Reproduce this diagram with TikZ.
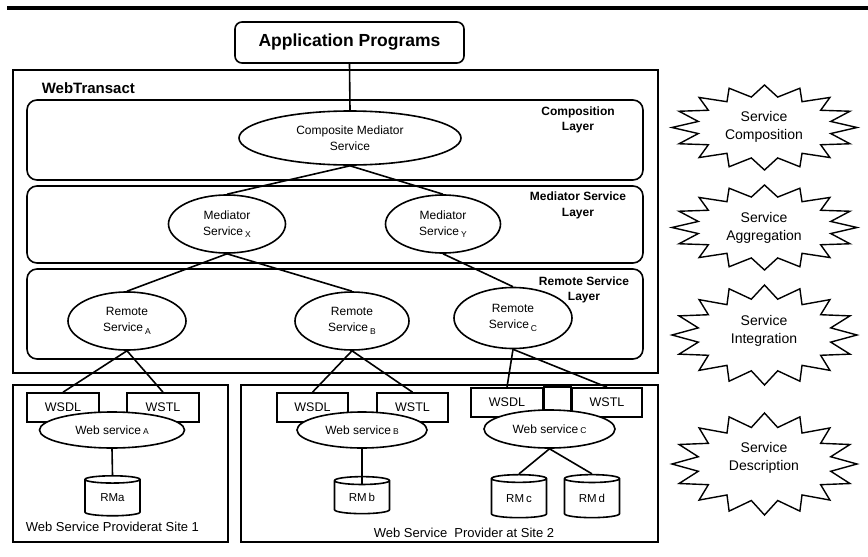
\documentclass[tikz,border=0pt]{standalone}
\usepackage{fontspec}
\setmainfont{Liberation Sans}
\usetikzlibrary{shapes.geometric,calc}

% lowered small index after a service name
\newcommand\lowsub[1]{\,\raisebox{-2.5pt}{\fontsize{8.5}{9}\selectfont #1}}
% small index on the baseline
\newcommand\smallsub[1]{{\fontsize{8.5}{9}\selectfont #1}}
% sixteen-point burst: centre x, centre y, x radius, y radius
\newcommand\burst[4]{%
  \draw[burstline] plot[samples at={0,...,31}, variable=\k]
    ({#1+(1-0.27*mod(\k,2))*#3*cos(\k*11.25)},
     {#2-(1-0.27*mod(\k,2))*#4*sin(\k*11.25)}) -- cycle;}

\begin{document}
\begin{tikzpicture}[x=1pt, y=-1pt, line width=1.6pt,
  box/.style={draw, rectangle, inner sep=0pt, fill=white},
  appbox/.style={draw, rectangle, rounded corners=7pt, inner sep=0pt,
    minimum width=229pt, minimum height=41pt,
    font=\fontsize{17.5}{20}\selectfont\bfseries},
  layer/.style={draw, rectangle, rounded corners=10pt, inner sep=0pt,
    minimum width=616pt},
  layerlabel/.style={align=center, inner sep=0pt,
    font=\fontsize{12}{15.5}\selectfont\bfseries},
  oval/.style={draw, ellipse, fill=white, inner sep=0pt, align=center,
    font=\fontsize{12}{16}\selectfont},
  doc/.style={box, minimum height=29pt, font=\fontsize{12.5}{14}\selectfont},
  cyl/.style={draw, cylinder, shape border rotate=90, aspect=0.3,
    inner sep=0pt, minimum width=55pt, minimum height=40pt,
    font=\fontsize{11.5}{13}\selectfont},
  sitelabel/.style={inner sep=0pt, font=\fontsize{13}{15}\selectfont},
  burstline/.style={draw, fill=white, line width=1.4pt, line join=miter},
  bursttext/.style={align=center, inner sep=0pt,
    font=\fontsize{14}{18.5}\selectfont}]

\useasboundingbox (0,0) rectangle (868,557);

% heading rule
\fill (7,6) rectangle (868,9.5);

% application layer
\node[appbox] (app) at (349.5,42.5) {Application Programs};

% WebTransact and its three layers
\node[draw, rectangle, inner sep=0pt, minimum width=645pt, minimum height=303pt] (wt) at (335.5,221.5) {};
\node[anchor=west, inner sep=0pt, font=\fontsize{15}{17}\selectfont\bfseries] (wtlabel) at (41,88) {WebTransact};
\node[layer, minimum height=80pt] (compL) at (335,140) {};
\node[layer, minimum height=77pt] (medL) at (335,224.5) {};
\node[layer, minimum height=90pt] (remL) at (335,314) {};
\node[layerlabel] (compLbl) at (578,120) {Composition\\Layer};
\node[layerlabel] (medLbl) at (578,205.5) {Mediator Service\\Layer};
\node[layerlabel] (remLbl) at (584,290) {Remote Service\\Layer};

\node[oval, minimum width=222pt, minimum height=54pt] (cms) at (350,138) {Composite Mediator\\Service};
\node[oval, minimum width=117pt, minimum height=58pt] (medx) at (227,224) {Mediator\\Service\lowsub{X}};
\node[oval, minimum width=115pt, minimum height=58pt] (medy) at (443,224) {Mediator\\Service\lowsub{Y}};
\node[oval, minimum width=118pt, minimum height=58pt] (rema) at (127,321) {Remote\\Service\lowsub{A}};
\node[oval, minimum width=114pt, minimum height=58pt] (remb) at (352,321) {Remote\\Service\lowsub{B}};
\node[oval, minimum width=118pt, minimum height=61pt] (remc) at (513,318) {Remote\\Service\lowsub{C}};

% provider sites
\node[draw, rectangle, inner sep=0pt, minimum width=215pt, minimum height=157pt] (site1) at (120.5,463.5) {};
\node[draw, rectangle, inner sep=0pt, minimum width=417pt, minimum height=157pt] (site2) at (449.5,463.5) {};

\node[doc, minimum width=72pt] (wsdla) at (63,407.5) {WSDL};
\node[doc, minimum width=72pt] (wstla) at (163,407.5) {WSTL};
\node[doc, minimum width=71pt] (wsdlb) at (312.5,407.5) {WSDL};
\node[doc, minimum width=71pt] (wstlb) at (412.5,407.5) {WSTL};
\node[doc, minimum width=72pt] (wsdlc) at (507,402.5) {WSDL};
\node[doc, minimum width=70pt] (wstlc) at (607,402.5) {WSTL};
\draw (wsdlc.north east) rectangle (wstlc.south west);

\node[oval, minimum width=145pt, minimum height=36pt] (wsa) at (112,430) {Web service\,\smallsub{A}};
\node[oval, minimum width=130pt, minimum height=36pt] (wsb) at (362,430) {Web service\,\smallsub{B}};
\node[oval, minimum width=131pt, minimum height=38pt] (wsc) at (549.5,429) {Web service\,\smallsub{C}};

\node[cyl] (rma) at (112.5,498) {RMa};
\node[cyl, minimum height=37pt] (rmb) at (362,497.5) {RM\,b};
\node[cyl, minimum height=43pt] (rmc) at (519,498.5) {RM\,c};
\node[cyl, minimum height=43pt] (rmd) at (592,498.5) {RM\,d};

\node[sitelabel, anchor=west] (site1lbl) at (25,527) {Web Service Providerat Site 1};
\node[sitelabel] (site2lbl) at (464,533) {Web Service\ \ Provider at Site 2};

% connectors
\draw (app.south) -- (cms.north);
\draw (cms.south) -- (medx.north);
\draw (cms.south) -- (medy.north);
\draw (medx.south) -- (rema.north);
\draw (medx.south) -- (remb.north);
\draw (medy.south) -- (remc.north);
\draw (rema.south) -- (wsdla.north);
\draw (rema.south) -- (wstla.north);
\draw (remb.south) -- (wsdlb.north);
\draw (remb.south) -- (wstlb.north);
\draw (remc.south) -- (wsdlc.north);
\draw (remc.south) -- (wstlc.north);
\draw (wsa.south) -- (rma.north);
\draw (wsb.south) -- ($(rmb.north)+(0,9)$);
\draw (wsc.south) -- (rmc.north);
\draw (wsc.south) -- (rmd.north);

% service levels
\burst{764.5}{127.5}{92.5}{42.5}
\node[bursttext] (scomp) at (764,127) {Service\\Composition};
\burst{764.5}{227.5}{92.5}{42.5}
\node[bursttext] (saggr) at (764,228) {Service\\Aggregation};
\burst{764.5}{335}{92.5}{50}
\node[bursttext] (sinteg) at (764,331) {Service\\Integration};
\burst{764.5}{464}{92.5}{51}
\node[bursttext] (sdesc) at (764,458) {Service\\Description};

\end{tikzpicture}
\end{document}
